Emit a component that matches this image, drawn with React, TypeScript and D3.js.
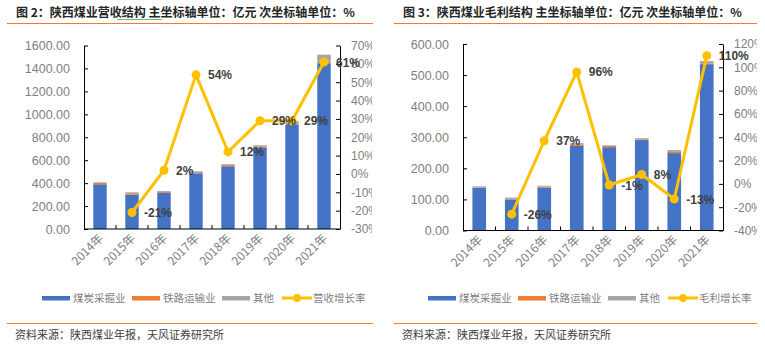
import * as d3 from "d3";
import { useEffect, useRef } from "react";

const years = ["2014年", "2015年", "2016年", "2017年", "2018年", "2019年", "2020年", "2021年"];
const seriesNames = ["煤炭采掘业", "铁路运输业", "其他"];

// 营收 (亿元)
const revCoal = [390, 300, 315, 485, 547, 708, 910, 1445];
const revRail = [12, 12, 8, 3, 10, 8, 5, 10];
const revOther = [5, 8, 8, 15, 8, 14, 25, 65];
const revGrowth = [null, -21, 2, 54, 12, 29, 29, 61];

// 毛利 (亿元)
const gpCoal = [138, 100, 138, 272, 268, 291, 249, 535];
const gpRail = [1, 2, 3, 4, 4, 2, 4, 3];
const gpOther = [3, 4, 3, 5, 2, 4, 6, 7];
const gpGrowth = [null, -26, 37, 96, -1, 8, -13, 110];

const colors = ["#4472C4", "#ED7D31", "#A5A5A5"];
const lineColor = "#FFC000";

interface PanelProps {
    ox: number;
    title: string;
    lineName: string;
    coal: number[];
    rail: number[];
    other: number[];
    growth: (number | null)[];
    x0: number;
    x1: number;
    yTop: number;
    yBottom: number;
    yMax: number;
    yStep: number;
    rMin: number;
    rMax: number;
    rStep: number;
    clipRight: number;
    lineLeft: number;
    lineRight: number;
    titleX: number;
    legendX: number;
    squiggle?: boolean;
}

const panels: PanelProps[] = [
    {
        ox: 0, title: "图 2：陕西煤业营收结构 主坐标轴单位：亿元 次坐标轴单位：%", lineName: "营收增长率",
        coal: revCoal, rail: revRail, other: revOther, growth: revGrowth,
        x0: 84, x1: 340, yTop: 45.5, yBottom: 229, yMax: 1600, yStep: 200,
        rMin: -30, rMax: 70, rStep: 10, clipRight: 372, lineLeft: 7, lineRight: 373, titleX: 16,
        legendX: 42, squiggle: true,
    },
    {
        ox: 380, title: "图 3：陕西煤业毛利结构 主坐标轴单位：亿元 次坐标轴单位：%", lineName: "毛利增长率",
        coal: gpCoal, rail: gpRail, other: gpOther, growth: gpGrowth,
        x0: 463, x1: 723, yTop: 44, yBottom: 230.5, yMax: 600, yStep: 100,
        rMin: -40, rMax: 120, rStep: 20, clipRight: 757, lineLeft: 394, lineRight: 757, titleX: 403,
        legendX: 428,
    },
];

const numFont = "'Liberation Sans', Arial, sans-serif";
const cjkFont = "'Noto Sans CJK SC', 'Noto Sans', sans-serif";

function drawPanel(root: d3.Selection<SVGSVGElement, unknown, null, undefined>, p: PanelProps, idx: number) {
    const g = root.append("g");

    // title + rules
    g.append("text")
        .attr("x", p.titleX).attr("y", 17)
        .attr("font-family", cjkFont).attr("font-size", 12).attr("font-weight", "bold")
        .attr("fill", "#262626")
        .text(p.title);
    if (p.squiggle) {
        // spellcheck-style wavy underline under "营收结构"
        const sx = p.titleX + 101, ex = sx + 46;
        let d = `M${sx},20`;
        for (let x = sx; x < ex; x += 2) d += ` L${x + 1},${x % 4 === 0 ? 21.5 : 19.5}`;
        g.append("path").attr("d", d).attr("fill", "none").attr("stroke", "#3cb043").attr("stroke-width", 0.8);
    }
    g.append("line").attr("x1", p.lineLeft).attr("x2", p.lineRight).attr("y1", 23.5).attr("y2", 23.5)
        .attr("stroke", "#ED7D31").attr("stroke-width", 1.2);
    g.append("line").attr("x1", p.lineLeft).attr("x2", p.lineRight).attr("y1", 323.5).attr("y2", 323.5)
        .attr("stroke", "#ED7D31").attr("stroke-width", 1.2);
    g.append("text")
        .attr("x", p.titleX - 1).attr("y", 339)
        .attr("font-family", cjkFont).attr("font-size", 11).attr("fill", "#404040")
        .text("资料来源：陕西煤业年报，天风证券研究所");

    const x = d3.scaleBand<string>().domain(years).range([p.x0, p.x1]).padding(0);
    const y = d3.scaleLinear().domain([0, p.yMax]).range([p.yBottom, p.yTop]);
    const yr = d3.scaleLinear().domain([p.rMin, p.rMax]).range([p.yBottom, p.yTop]);

    const clipId = `clip-${idx}`;
    root.append("defs").append("clipPath").attr("id", clipId)
        .append("rect").attr("x", p.ox).attr("y", 0).attr("width", p.clipRight - p.ox).attr("height", 351);

    // stacked bars
    const rows = years.map((yr_, i) => ({ year: yr_, a: p.coal[i], b: p.rail[i], c: p.other[i] }));
    const stack = d3.stack<{ year: string; a: number; b: number; c: number }>().keys(["a", "b", "c"]);
    const layers = stack(rows);
    const barW = x.bandwidth() * 0.42;
    layers.forEach((layer, li) => {
        g.append("g").selectAll("rect").data(layer).join("rect")
            .attr("x", (d) => x(d.data.year)! + x.bandwidth() / 2 - barW / 2)
            .attr("width", barW)
            .attr("y", (d) => y(d[1]))
            .attr("height", (d) => y(d[0]) - y(d[1]))
            .attr("fill", colors[li]);
    });

    // left axis
    const leftAxis = g.append("g").attr("transform", `translate(${p.x0},0)`)
        .call(d3.axisLeft(y).tickValues(d3.range(0, p.yMax + 1, p.yStep)).tickSizeInner(-4).tickSizeOuter(0).tickPadding(14).tickFormat((d) => (+d).toFixed(2)));
    leftAxis.select(".domain").attr("stroke", "#000");
    leftAxis.selectAll(".tick line").attr("stroke", "#000");
    leftAxis.selectAll("text").attr("font-family", numFont).attr("font-size", 12.5).attr("fill", "#808080");

    // right axis (labels clipped at panel edge like the original)
    const rightAxis = g.append("g").attr("clip-path", `url(#${clipId})`)
        .append("g").attr("transform", `translate(${p.x1},0)`)
        .call(d3.axisRight(yr).tickValues(d3.range(p.rMin, p.rMax + 1, p.rStep)).tickSizeInner(-4).tickSizeOuter(0).tickPadding(11).tickFormat((d) => `${d}%`));
    rightAxis.select(".domain").attr("stroke", "#000");
    rightAxis.selectAll(".tick line").attr("stroke", "#000");
    rightAxis.selectAll("text").attr("font-family", numFont).attr("font-size", 12).attr("fill", "#808080");

    // bottom axis
    const bottom = g.append("g").attr("transform", `translate(0,${p.yBottom})`);
    bottom.append("line").attr("x1", p.x0).attr("x2", p.x1).attr("stroke", "#000");
    const bounds = d3.range(1, years.length).map((i) => p.x0 + i * x.step());
    bottom.selectAll("line.tk").data(bounds).join("line").attr("class", "tk")
        .attr("x1", (d) => d).attr("x2", (d) => d).attr("y1", 0).attr("y2", -4).attr("stroke", "#000");
    bottom.selectAll("text").data(years).join("text")
        .attr("transform", (d) => `translate(${x(d)! + x.bandwidth() / 2 + 4},${10}) rotate(-45)`)
        .attr("text-anchor", "end")
        .attr("font-family", cjkFont).attr("font-size", 12).attr("fill", "#808080")
        .text((d) => d);

    // growth line
    const pts = years.map((yy, i) => ({ year: yy, v: p.growth[i] })).filter((d) => d.v !== null) as { year: string; v: number }[];
    const line = d3.line<{ year: string; v: number }>()
        .x((d) => x(d.year)! + x.bandwidth() / 2)
        .y((d) => yr(d.v));
    g.append("path").attr("d", line(pts)!).attr("fill", "none").attr("stroke", lineColor).attr("stroke-width", 3).attr("stroke-linejoin", "round");
    g.selectAll("circle.pt").data(pts).join("circle").attr("class", "pt")
        .attr("cx", (d) => x(d.year)! + x.bandwidth() / 2).attr("cy", (d) => yr(d.v)).attr("r", 4.5).attr("fill", lineColor);
    g.selectAll("text.lbl").data(pts).join("text").attr("class", "lbl")
        .attr("x", (d) => x(d.year)! + x.bandwidth() / 2 + 12)
        .attr("y", (d) => yr(d.v) + 4.5)
        .attr("font-family", numFont).attr("font-size", 12).attr("font-weight", "bold").attr("fill", "#404040")
        .text((d) => `${d.v}%`);

    // legend
    const ly = 298;
    const items = [...seriesNames, p.lineName];
    const offsets = [0, 90, 180, 240];
    items.forEach((name, i) => {
        const ix = p.legendX + offsets[i];
        if (i < 3) {
            g.append("rect").attr("x", ix).attr("y", ly - 2).attr("width", 28).attr("height", 4.5).attr("fill", colors[i]);
        } else {
            g.append("line").attr("x1", ix).attr("x2", ix + 30).attr("y1", ly).attr("y2", ly).attr("stroke", lineColor).attr("stroke-width", 3);
            g.append("circle").attr("cx", ix + 15).attr("cy", ly).attr("r", 4).attr("fill", lineColor);
        }
        g.append("text").attr("x", ix + 31).attr("y", ly + 4)
            .attr("font-family", cjkFont).attr("font-size", 10.5).attr("fill", "#808080")
            .text(name);
    });
}

export default function App() {
    const svgRef = useRef<SVGSVGElement | null>(null);

    useEffect(() => {
        const svg = d3.select(svgRef.current!);
        svg.selectAll("*").remove();
        panels.forEach((p, i) => drawPanel(svg, p, i));
    }, []);

    return (
        <svg
            ref={svgRef}
            width={765}
            height={351}
            style={{ position: "absolute", left: 0, top: 0, background: "#fff" }}
        />
    );
}
